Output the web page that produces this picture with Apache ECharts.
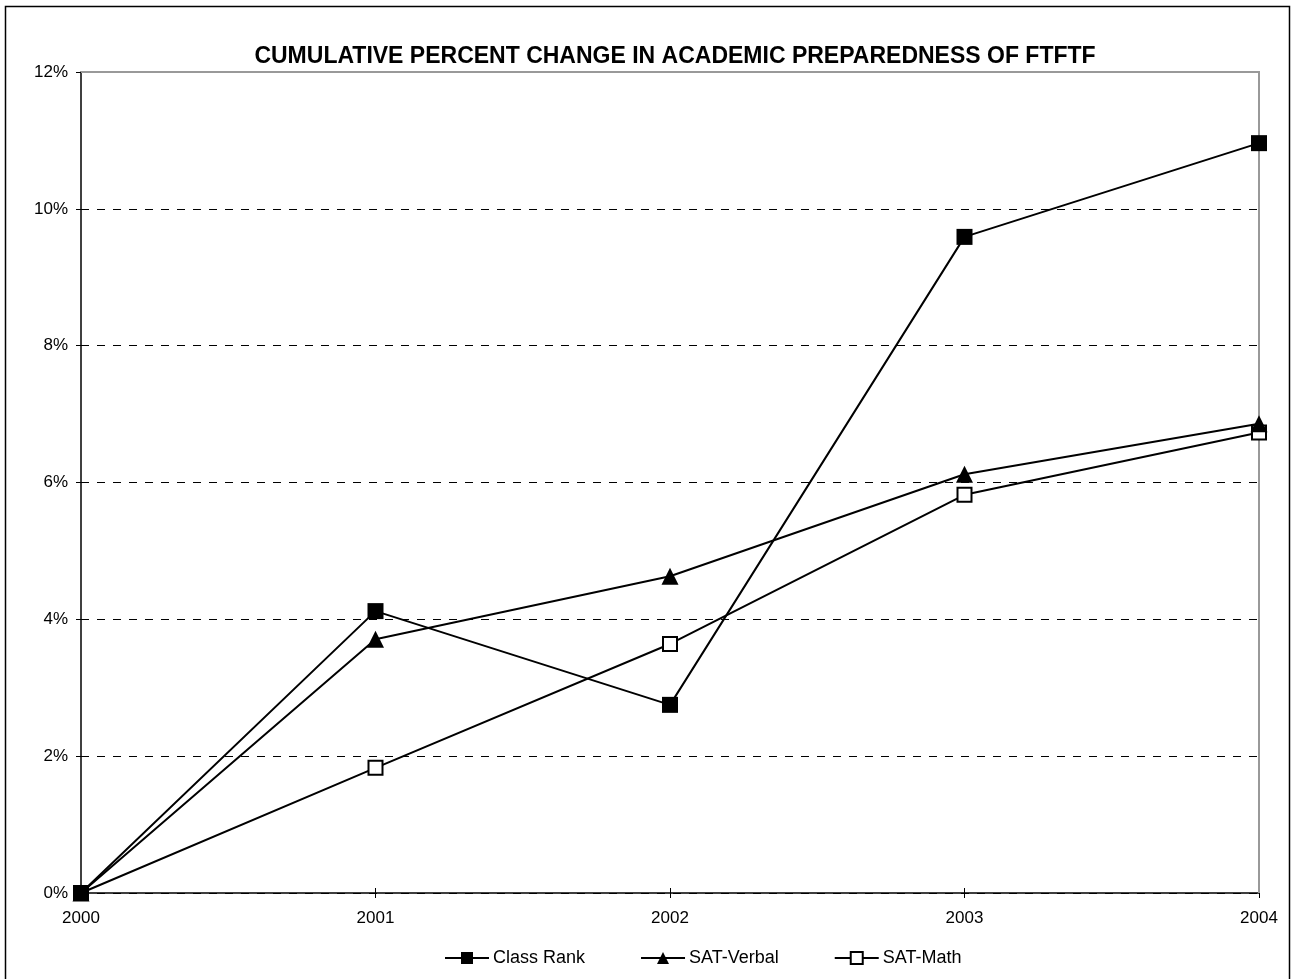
<!DOCTYPE html>
<html>
<head>
<meta charset="utf-8">
<script src="https://cdn.jsdelivr.net/npm/echarts@6/dist/echarts.min.js"></script>
<style>html,body{margin:0;padding:0;background:#fff;}#c{width:1295px;height:979px;}</style>
</head>
<body>
<div id="c"></div>
<script>
var titleText = 'CUMULATIVE PERCENT CHANGE IN ACADEMIC PREPAREDNESS OF FTFTF';
var years = ['2000', '2001', '2002', '2003', '2004'];
var classRank = [0, 4.12, 2.75, 9.59, 10.96];
var satVerbal = [0, 3.71, 4.63, 6.12, 6.86];
var satMath = [0, 1.83, 3.64, 5.82, 6.73];
var seriesNames = ['Class Rank', 'SAT-Verbal', 'SAT-Math'];

var chart = echarts.init(document.getElementById('c'), null, {renderer: 'canvas'});
var font = 'Liberation Sans, Arial, sans-serif';
var option = {
  animation: false,
  backgroundColor: '#fff',
  title: {
    text: titleText, left: 670, top: 40, textAlign: 'center',
    textStyle: {fontFamily: font, fontSize: 23, fontWeight: 'bold', color: '#000'}
  },
  graphic: [{
    type: 'rect', shape: {x: 5.5, y: 6.5, width: 1284, height: 990},
    style: {fill: 'none', stroke: '#000', lineWidth: 1.5}, silent: true
  }, {
    type: 'polyline', shape: {points: [[81, 72], [1259, 72], [1259, 893]]},
    style: {fill: 'none', stroke: '#999', lineWidth: 2}, silent: true, z: 1
  }],
  legend: {
    top: 944, left: 439, itemWidth: 44, itemHeight: 15, itemGap: 55,
    textStyle: {fontFamily: font, fontSize: 18, color: '#000', padding: [0, 0, 0, -1]},
    data: seriesNames
  },
  grid: {left: 81, right: 36, top: 72, bottom: 86, containLabel: false},
  xAxis: [{
    type: 'category', data: years, boundaryGap: false,
    axisLine: {lineStyle: {color: '#000', width: 1.5}},
    axisTick: {show: true, alignWithLabel: true, length: 5, lineStyle: {color: '#000'}},
    axisLabel: {fontFamily: font, fontSize: 17, color: '#000', margin: 17},
    splitLine: {show: false}
  }, {
    type: 'category', data: years, boundaryGap: false, position: 'bottom', offset: 0,
    axisLine: {show: false},
    axisTick: {show: true, inside: true, length: 5, lineStyle: {color: '#000'}},
    axisLabel: {show: false}, splitLine: {show: false}
  }],
  yAxis: [{
    type: 'value', min: 0, max: 12, interval: 2,
    axisLine: {show: true, lineStyle: {color: '#000', width: 1.5}},
    axisTick: {show: true, length: 5, lineStyle: {color: '#000'}},
    axisLabel: {fontFamily: font, fontSize: 17, color: '#000', margin: 13, formatter: '{value}%'},
    splitLine: {show: true, lineStyle: {color: '#000', type: [8, 8], width: 1}}
  }, {
    type: 'value', min: 0, max: 12, interval: 2, position: 'left', offset: 0,
    axisLine: {show: false},
    axisTick: {show: true, inside: true, length: 4, lineStyle: {color: '#000'}},
    axisLabel: {show: false}, splitLine: {show: false}
  }],
  series: [{
    name: seriesNames[0], type: 'line', data: classRank, symbol: 'rect', symbolSize: 16,
    lineStyle: {color: '#000', width: 2}, itemStyle: {color: '#000'}, z: 5
  }, {
    name: seriesNames[1], type: 'line', data: satVerbal, symbol: 'triangle', symbolSize: 17,
    lineStyle: {color: '#000', width: 2}, itemStyle: {color: '#000'}, z: 4
  }, {
    name: seriesNames[2], type: 'line', data: satMath, symbol: 'rect', symbolSize: 14,
    lineStyle: {color: '#000', width: 2}, itemStyle: {color: '#fff', borderColor: '#000', borderWidth: 2}, z: 3
  }]
};
chart.setOption(option);
</script>
</body>
</html>
